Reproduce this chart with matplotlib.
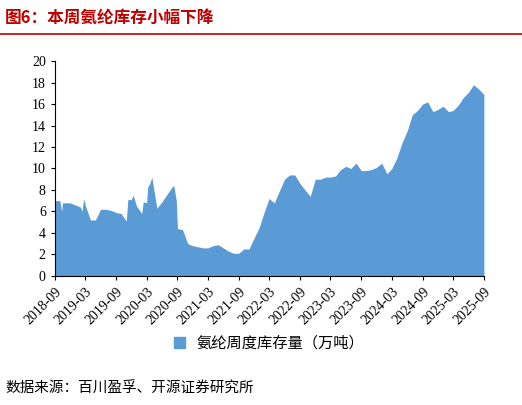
import matplotlib
matplotlib.use("Agg")
import matplotlib.pyplot as plt
import pandas as pd
from matplotlib.lines import Line2D
from matplotlib.patches import Patch

plt.rcParams['font.family'] = ['Liberation Serif', 'Noto Sans CJK SC']

dates = ["2018-09-01","2018-10-01","2018-10-12","2018-10-16","2018-11-01","2018-12-01","2019-01-01",
 "2019-02-01","2019-02-10","2019-02-20","2019-03-01","2019-04-01","2019-05-01","2019-06-01","2019-07-01",
 "2019-08-01","2019-09-01","2019-10-01","2019-11-01","2019-11-10","2019-12-01","2019-12-12","2020-01-01",
 "2020-02-01","2020-02-10","2020-03-01","2020-03-08","2020-03-20","2020-04-01","2020-05-01","2020-06-01",
 "2020-07-01","2020-08-01","2020-08-10","2020-08-25","2020-09-01","2020-10-01","2020-11-01","2020-12-01",
 "2021-01-01","2021-02-01","2021-03-01","2021-04-01","2021-05-01","2021-06-01","2021-07-01","2021-08-01",
 "2021-09-01","2021-10-01","2021-11-01","2021-12-01","2022-01-01","2022-02-01","2022-03-01","2022-04-01",
 "2022-05-01","2022-06-01","2022-07-01","2022-08-01","2022-09-01","2022-10-01","2022-11-01","2022-12-01",
 "2023-01-01","2023-02-01","2023-03-01","2023-04-01","2023-05-01","2023-06-01","2023-07-01","2023-08-01",
 "2023-09-01","2023-10-01","2023-11-01","2023-12-01","2024-01-01","2024-02-01","2024-03-01","2024-04-01",
 "2024-05-01","2024-06-01","2024-07-01","2024-08-01","2024-09-01","2024-10-01","2024-11-01","2024-12-01",
 "2025-01-01","2025-02-01","2025-03-01","2025-04-01","2025-05-01","2025-06-01","2025-07-01","2025-08-01",
 "2025-09-01"]
inventory = [7.0,7.0,6.0,6.8,6.8,6.8,6.6,
 6.4,6.0,7.2,6.6,5.2,5.2,6.2,6.2,
 6.1,5.9,5.8,5.1,7.1,7.1,7.5,6.5,
 5.8,6.9,6.8,8.3,8.6,9.2,6.3,6.9,
 7.6,8.3,8.4,7.0,4.4,4.3,3.0,2.8,
 2.7,2.6,2.6,2.8,2.9,2.6,2.3,2.1,
 2.1,2.5,2.5,3.5,4.5,6.0,7.2,6.8,
 7.9,9.0,9.4,9.4,8.6,8.0,7.4,9.0,
 9.0,9.2,9.2,9.3,9.9,10.2,10.0,10.5,
 9.8,9.8,9.9,10.1,10.5,9.5,10.0,11.0,
 12.4,13.5,15.0,15.4,16.0,16.2,15.3,15.5,
 15.8,15.3,15.4,15.9,16.6,17.1,17.8,17.4,
 16.9]
series_name = "氨纶周度库存量（万吨）"
color = "#5B9BD5"

x = pd.to_datetime(dates)
fig = plt.figure(figsize=(5.22, 4.05), dpi=100)
ax = fig.add_axes([0.105, 0.319, 0.822, 0.530])
ax.fill_between(x, inventory, 0, color=color, linewidth=0)
ax.set_ylim(0, 20)
ax.set_yticks(range(0, 21, 2))
ax.set_xlim(pd.Timestamp("2018-09-01"), pd.Timestamp("2025-09-01"))
ticks = pd.date_range("2018-09-01", "2025-09-01", freq="6MS")
ax.set_xticks(ticks)
ax.set_xticklabels([t.strftime("%Y-%m") for t in ticks], rotation=45, ha="right", rotation_mode="anchor")
for s in ["top", "right"]:
    ax.spines[s].set_visible(False)
ax.tick_params(labelsize=10, direction="out", length=3)
ax.legend(handles=[Patch(color=color)], labels=[series_name], loc="upper center",
          bbox_to_anchor=(0.5, -0.21), frameon=False, prop={'family': 'Noto Sans CJK SC', 'size': 11},
          handlelength=0.7, handleheight=0.7)

fig.text(0.01, 0.955, "图6：本周氨纶库存小幅下降", color="#C00000", fontsize=12, fontweight="bold",
         family="Noto Sans CJK SC", va="center")
fig.add_artist(Line2D([0.0, 1.0], [0.915, 0.915], color="#C00000", lw=1.2))
fig.text(0.01, 0.04, "数据来源：百川盈孚、开源证券研究所", fontsize=10.5, family="Noto Sans CJK SC", va="center")
fig.savefig("out.png", dpi=100)
